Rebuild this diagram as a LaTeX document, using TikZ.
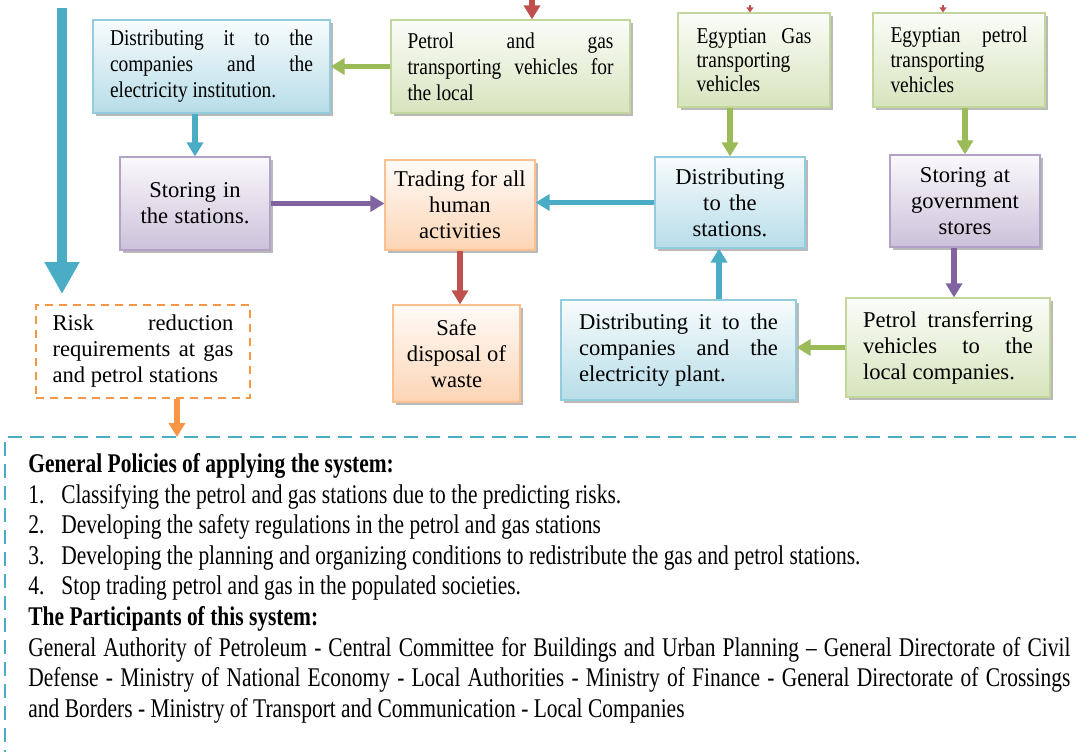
\documentclass[tikz,border=0pt]{standalone}
\usepackage{fontspec}
\setmainfont{Liberation Serif}
\newfontfamily\narrowfont{Liberation Serif}[FakeStretch=0.86]
\newfontfamily\policyfont{Liberation Serif}[FakeStretch=0.795]
\usetikzlibrary{arrows.meta,shadows}

\definecolor{blueA}{HTML}{4BACC6}
\definecolor{blueE}{HTML}{93CDDD}
\definecolor{blueF}{HTML}{B7DDE8}
\definecolor{greenA}{HTML}{9BBB59}
\definecolor{greenE}{HTML}{C3D69B}
\definecolor{greenF}{HTML}{D7E4BD}
\definecolor{purpleA}{HTML}{8064A2}
\definecolor{purpleE}{HTML}{B3A2C7}
\definecolor{purpleF}{HTML}{CCC1DA}
\definecolor{orangeA}{HTML}{F79646}
\definecolor{orangeE}{HTML}{FAC090}
\definecolor{orangeF}{HTML}{FCD5B5}
\definecolor{redA}{HTML}{C0504D}

% one justified line of a box
\newcommand{\jline}[1]{\makebox[\hsize][s]{#1}}

\begin{document}
\begin{tikzpicture}[
    x=0.5pt, y=-0.5pt,
    every node/.append style={execute at begin node={\spaceskip=0pt\xspaceskip=0pt}},
    box/.style={rectangle, line width=0.6pt, inner xsep=2pt, inner ysep=2pt, align=center,
                font=\fontsize{11.3}{13}\selectfont,
                drop shadow={shadow xshift=1.5pt, shadow yshift=-1.5pt, fill=black!50, opacity=0.55}},
    narrow/.style={align=left, font=\narrowfont\fontsize{11.3}{13}\selectfont},
    bluebox/.style={box, draw=blueE, top color=blueF!10, bottom color=blueF},
    greenbox/.style={box, draw=greenE, top color=greenF!10, bottom color=greenF},
    purplebox/.style={box, draw=purpleE, top color=purpleF!10, bottom color=purpleF},
    orangebox/.style={box, draw=orangeE, top color=orangeF!10, bottom color=orangeF},
    riskbox/.style={rectangle, draw=orangeA, line width=1pt, dash pattern=on 4pt off 3pt,
                    inner sep=2pt, align=left, font=\fontsize{11.3}{13}\selectfont},
    flow/.style={-{Triangle[length=7pt,width=8pt]}, line width=2.75pt},
    bflow/.style={flow, draw=blueA, fill=blueA},
    gflow/.style={flow, draw=greenA, fill=greenA},
    pflow/.style={flow, draw=purpleA, fill=purpleA},
    oflow/.style={flow, draw=orangeA, fill=orangeA},
    rflow/.style={flow, draw=redA, fill=redA},
    rtip/.style={-{Triangle[length=2.5pt,width=3.5pt]}, line width=1pt, draw=redA, fill=redA},
    bigflow/.style={-{Triangle[length=16pt,width=16.5pt]}, line width=5.25pt, draw=blueA, fill=blueA},
    policyframe/.style={draw=blueA, line width=1.2pt, dash pattern=on 7pt off 4pt},
    policy/.style={align=left, text width=521pt, inner sep=0pt,
                   font=\policyfont\fontsize{13.5}{15.3}\selectfont}
]
\useasboundingbox (0,0) rectangle (1076,751);
\clip (0,0) rectangle (1076,751);

% top row
\node[bluebox, narrow, minimum width=118.5pt, minimum height=46.5pt, text width=101.5pt] (A) at (211.5,66.5)
  {\jline{Distributing it to the}\\\jline{companies and the}\\electricity institution.};
\node[greenbox, narrow, minimum width=119.5pt, minimum height=46.5pt, text width=103pt] (B) at (510.5,66.5)
  {\jline{Petrol and gas}\\\jline{transporting vehicles for}\\the local};
\node[greenbox, narrow, minimum width=76pt, minimum height=47pt, text width=57.5pt,
      font=\narrowfont\fontsize{11.3}{12}\selectfont] (C) at (754,60)
  {\jline{Egyptian Gas}\\transporting\\vehicles};
\node[greenbox, narrow, minimum width=86pt, minimum height=47pt, text width=68.5pt,
      font=\narrowfont\fontsize{11.3}{12.5}\selectfont] (D) at (959,60)
  {\jline{Egyptian petrol}\\transporting\\vehicles};

% middle row
\node[purplebox, minimum width=75pt, minimum height=46.5pt, text width=70pt] (E) at (195,203.5)
  {Storing in\\the stations.};
\node[orangebox, minimum width=75pt, minimum height=45pt, text width=70pt] (F) at (460,205)
  {Trading for all\\human\\activities};
\node[bluebox, minimum width=75pt, minimum height=45.5pt, text width=70pt] (G) at (730,202.5)
  {Distributing\\to the\\stations.};
\node[purplebox, minimum width=75pt, minimum height=46pt, text width=70pt] (H) at (965,201)
  {Storing at\\government\\stores};

% bottom row
\node[riskbox, minimum width=107pt, minimum height=46.5pt, text width=90.5pt] (L) at (143,351.5)
  {\jline{Risk reduction}\\\jline{requirements at gas}\\and petrol stations};
\node[orangebox, minimum width=63.5pt, minimum height=48.5pt, text width=58pt] (I) at (456.5,353.5)
  {Safe\\disposal of\\waste};
\node[bluebox, align=left, minimum width=117.5pt, minimum height=50pt, text width=99.5pt] (J) at (678.5,350)
  {\jline{Distributing it to the}\\\jline{companies and the}\\electricity plant.};
\node[greenbox, align=left, minimum width=102pt, minimum height=49.5pt, text width=85pt] (K) at (948,347.5)
  {\jline{Petrol transferring}\\\jline{vehicles to the}\\local companies.};

% free ends
\coordinate (bigtop) at (62,8);
\coordinate (bigend) at (62,294);
\coordinate (rtB) at (532,-20);
\coordinate (rtC) at (750,5);
\coordinate (rtD) at (943,5);
\coordinate (ftop) at (177,437);

% connectors
\draw[bigflow] (bigtop) -- (bigend);
\draw[rflow] (rtB) -- (rtB |- B.north);
\draw[rtip] (rtC) -- (rtC |- C.north);
\draw[rtip] (rtD) -- (rtD |- D.north);
\draw[gflow] (B.west) -- (A.east);
\draw[bflow] (A.south -| E.north) -- (E.north);
\draw[pflow] (E.east) -- (E.east -| F.west);
\draw[bflow] (G.west) -- (G.west -| F.east);
\draw[gflow] (C.south -| G.north) -- (G.north);
\draw[gflow] (D.south -| H.north) -- (H.north);
\draw[pflow] ([xshift=-5.5pt]H.south) -- ([xshift=-5.5pt]H.south |- K.north);
\draw[rflow] (F.south) -- (F.south |- I.north);
\draw[gflow] (K.west) -- (K.west -| J.east);
\draw[bflow] ([xshift=-5.5pt]G.south |- J.north) -- ([xshift=-5.5pt]G.south);
\draw[oflow] (L.south -| ftop) -- (ftop);

% policies and participants
\draw[policyframe] (1100,437) -- (5,437) -- (5,780);
\node[policy, anchor=north west] (policy) at (28,453) {%
\textbf{General Policies of applying the system:}\\
\makebox[16.5pt][l]{1.}Classifying the petrol and gas stations due to the predicting risks.\\
\makebox[16.5pt][l]{2.}Developing the safety regulations in the petrol and gas stations\\
\makebox[16.5pt][l]{3.}Developing the planning and organizing conditions to redistribute the gas and petrol stations.\\
\makebox[16.5pt][l]{4.}Stop trading petrol and gas in the populated societies.\\
\textbf{The Participants of this system:}\\
\jline{General Authority of Petroleum - Central Committee for Buildings and Urban Planning \textendash{} General Directorate of Civil}\\
\jline{Defense - Ministry of National Economy - Local Authorities - Ministry of Finance - General Directorate of Crossings}\\
and Borders - Ministry of Transport and Communication - Local Companies};
\end{tikzpicture}
\end{document}
